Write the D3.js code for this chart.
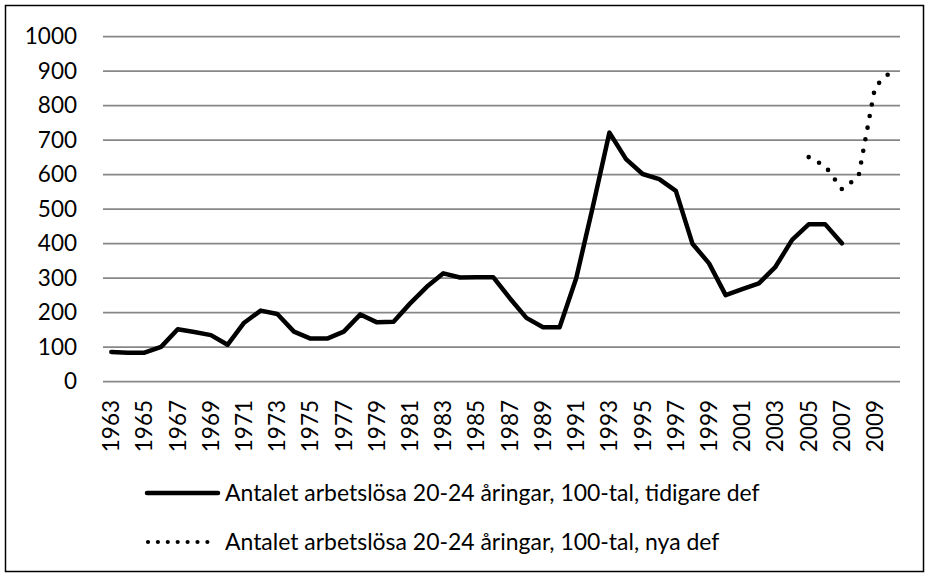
<!DOCTYPE html>
<html>
<head>
<meta charset="utf-8">
<script src="https://cdn.jsdelivr.net/npm/d3@7"></script>
<style>
  html, body { margin: 0; padding: 0; background: #fff; }
  svg { display: block; }
  text { font-family: Lato, "Open Sans", sans-serif; fill: #000; }
</style>
</head>
<body>
<svg id="chart" width="929" height="577"></svg>
<script>
// ---- data ----
const years = d3.range(1963, 2011);
const labeledYears = [1963,1965,1967,1969,1971,1973,1975,1977,1979,1981,1983,1985,1987,1989,1991,1993,1995,1997,1999,2001,2003,2005,2007,2009];
const yTicks = [0,100,200,300,400,500,600,700,800,900,1000];
// 1963-2007
const oldDefValues = [84,82,82,99,150,142,133,105,169,204,194,143,123,123,143,193,170,172,225,273,312,300,301,301,240,183,156,156,298,505,720,643,600,585,551,398,341,249,266,283,331,409,454,454,399];
const oldDefStart = 1963;
// 2005-2010
const newDefValues = [649,623,556,592,853,899];
const newDefStart = 2005;
const seriesNames = [
  "Antalet arbetslösa 20-24 åringar, 100-tal, tidigare def",
  "Antalet arbetslösa 20-24 åringar, 100-tal, nya def"
];

// ---- layout ----
const svg = d3.select("#chart");
const plot = { left: 103, right: 900, top: 36, bottom: 381 };

svg.append("rect")
  .attr("x", 5.5).attr("y", 5.5).attr("width", 918).attr("height", 566)
  .attr("fill", "#fff").attr("stroke", "#000").attr("stroke-width", 1.5);

const x = d3.scaleBand().domain(years).range([plot.left, plot.right]).padding(0);
const cx = yr => x(yr) + x.bandwidth() / 2;
const y = d3.scaleLinear().domain([0, 1000]).range([plot.bottom, plot.top]);

// gridlines
const grid = svg.append("g").attr("transform", `translate(${plot.left},0)`)
  .call(d3.axisLeft(y).tickValues(yTicks).tickSize(-(plot.right - plot.left)).tickFormat(""));
grid.select(".domain").remove();
grid.selectAll(".tick line").attr("stroke", "#878787").attr("stroke-width", 1.75);

// y labels
const yAxis = svg.append("g").attr("transform", `translate(77,0)`)
  .call(d3.axisLeft(y).tickValues(yTicks).tickSize(0).tickPadding(0).tickFormat(d3.format("d")));
yAxis.select(".domain").remove();
yAxis.selectAll(".tick text")
  .attr("font-family", "Lato, sans-serif")
  .attr("font-size", 22.5)
  .attr("fill", "#000")
  .attr("dy", "0.35em");

// x labels
const xAxis = svg.append("g").attr("transform", `translate(0,${plot.bottom})`)
  .call(d3.axisBottom(x).tickValues(labeledYears).tickSize(0).tickFormat(d => String(d)));
xAxis.select(".domain").remove();
xAxis.selectAll(".tick text")
  .attr("font-family", "Lato, sans-serif")
  .attr("font-size", 22.5)
  .attr("fill", "#000")
  .attr("text-anchor", "end")
  .attr("transform", "rotate(-90)")
  .attr("x", -19)
  .attr("y", 0)
  .attr("dy", "0.35em");

// series
const oldPts = oldDefValues.map((v, i) => ({ yr: oldDefStart + i, v }));
const newPts = newDefValues.map((v, i) => ({ yr: newDefStart + i, v }));
const line = d3.line().x(d => cx(d.yr)).y(d => y(d.v));

svg.append("path").datum(oldPts)
  .attr("d", line).attr("fill", "none").attr("stroke", "#000")
  .attr("stroke-width", 4.5).attr("stroke-linejoin", "round").attr("stroke-linecap", "round");

svg.append("path").datum(newPts)
  .attr("d", line).attr("fill", "none").attr("stroke", "#000")
  .attr("stroke-width", 4.6).attr("stroke-linecap", "round")
  .attr("stroke-dasharray", "0,11.8");

// legend
const leg = svg.append("g");
leg.append("line").attr("x1", 147).attr("x2", 218).attr("y1", 493).attr("y2", 493)
  .attr("stroke", "#000").attr("stroke-width", 4.5).attr("stroke-linecap", "round");
leg.append("line").attr("x1", 148).attr("x2", 208).attr("y1", 542).attr("y2", 542)
  .attr("stroke", "#000").attr("stroke-width", 4.2).attr("stroke-linecap", "round")
  .attr("stroke-dasharray", "0,9.9");

const t1 = leg.append("text").attr("x", 225).attr("y", 493).attr("dy", "0.35em").text(seriesNames[0]);
const t2 = leg.append("text").attr("x", 225).attr("y", 542).attr("dy", "0.35em").text(seriesNames[1]);
// fit legend font to reference width
t1.attr("font-size", 24); t2.attr("font-size", 24);
const w1 = t1.node().getComputedTextLength();
const fs = 24 * 535 / w1;
t1.attr("font-size", fs); t2.attr("font-size", fs);
</script>
</body>
</html>
